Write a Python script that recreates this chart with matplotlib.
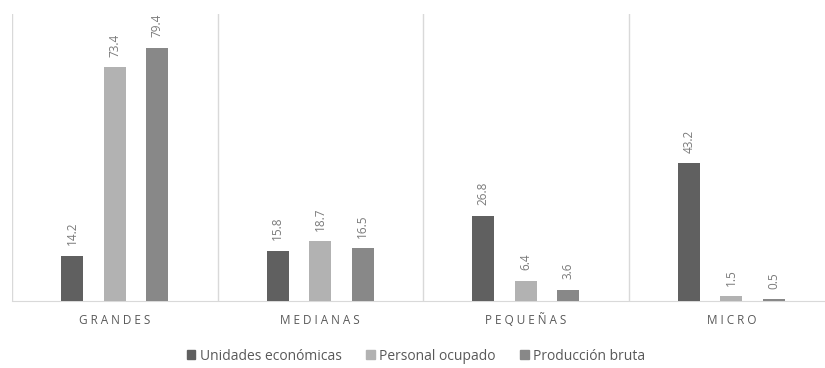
import numpy as np
import matplotlib
matplotlib.use("Agg")
import matplotlib.pyplot as plt
from matplotlib.patches import Patch

categories = ["GRANDES", "MEDIANAS", "PEQUEÑAS", "MICRO"]
series_names = ["Unidades económicas", "Personal ocupado", "Producción bruta"]
unidades = [14.2, 15.8, 26.8, 43.2]
personal = [73.4, 18.7, 6.4, 1.5]
produccion = [79.4, 16.5, 3.6, 0.5]
colors = ["#606060", "#b2b2b2", "#888888"]

plt.rcParams["font.family"] = ["Open Sans", "DejaVu Sans"]

fig = plt.figure(figsize=(8.25, 3.68), dpi=100)
ax = fig.add_axes([12 / 825, 1 - 301 / 368, 822 / 825, 287 / 368])

x = np.arange(len(categories))
width = 0.107
offset = 0.207
for i, (vals, col) in enumerate(zip([unidades, personal, produccion], colors)):
    pos = x + (i - 1) * offset
    ax.bar(pos, vals, width=width, color=col, zorder=3)
    for p, v in zip(pos, vals):
        ax.annotate(f"{v:.1f}", (p, v), xytext=(0, 7.5), textcoords="offset points",
                    rotation=90, ha="center", va="bottom", fontsize=8.5, color="#7a7a7a")

ax.set_xlim(-0.5, len(categories) - 0.5)
ax.set_ylim(0, 90)
for b in np.arange(-0.5, len(categories), 1.0):
    ax.axvline(b, color="#d9d9d9", lw=1, zorder=1)

for s in ["top", "right", "left"]:
    ax.spines[s].set_visible(False)
ax.spines["bottom"].set_color("#d9d9d9")
ax.set_yticks([])
ax.set_xticks(x)
ax.set_xticklabels([" ".join(c) for c in categories], fontsize=8.5, color="#595959")
ax.tick_params(axis="x", length=0, pad=9)

handles = [Patch(color=c) for c in colors]
fig.legend(handles, series_names, loc="center", bbox_to_anchor=(416 / 825, 1 - 356 / 368),
           ncol=3, frameon=False, fontsize=10, handlelength=0.6, handleheight=0.6,
           handletextpad=0.3, columnspacing=1.8, labelcolor="#595959")

fig.savefig("out.png", dpi=100)
